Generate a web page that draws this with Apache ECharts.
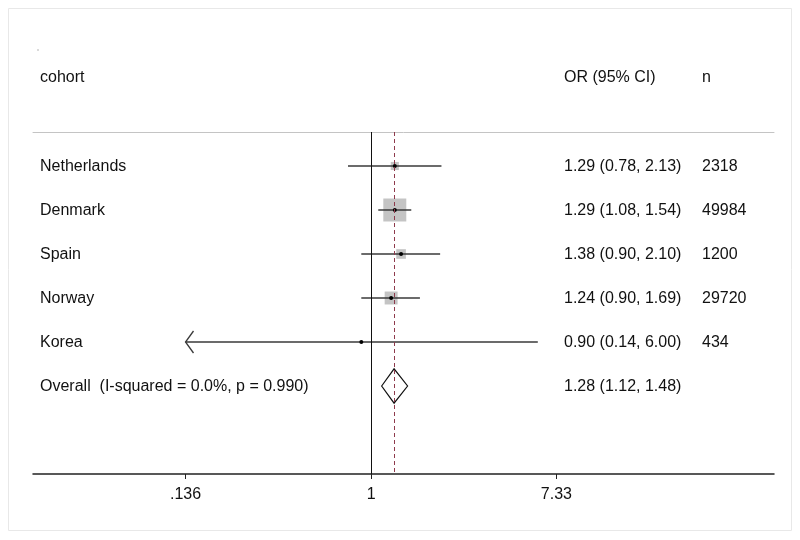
<!DOCTYPE html>
<html>
<head>
<meta charset="utf-8">
<script src="https://cdn.jsdelivr.net/npm/echarts@6/dist/echarts.min.js"></script>
<style>html,body{margin:0;padding:0;background:#fff}#c{width:800px;height:540px}</style>
</head>
<body>
<div id="c"></div>
<script>
// ---- data ----
const cohorts = ['Netherlands', 'Denmark', 'Spain', 'Norway', 'Korea'];
const orValues = [1.29, 1.29, 1.38, 1.24, 0.90];
const ciLower = [0.78, 1.08, 0.90, 0.90, 0.135];
const ciUpper = [2.13, 1.54, 2.10, 1.69, 6.00];
const sampleSize = [2318, 49984, 1200, 29720, 434];
const weights = [7.7, 61.6, 10.8, 19.5, 0.5];   // % weight (box size)
const overallLabel = 'Overall  (I-squared = 0.0%, p = 0.990)';
const overallOR = 1.28, overallLower = 1.12, overallUpper = 1.48;
const tickValues = [0.136, 1, 7.33];
const tickLabels = ['.136', '1', '7.33'];
const axisMinOR = 0.02640, axisMaxOR = 76.0;
const headers = ['cohort', 'OR (95% CI)', 'n'];

// ---- layout / style ----
const FONT = '"Liberation Sans", Arial, Helvetica, sans-serif';
const FS = 16;
const colName = 40, colCI = 564, colN = 702;
const fmt = v => (Math.round(v * 100) / 100).toFixed(2);
const ciText = (o, l, u) => fmt(o) + ' (' + fmt(l) + ', ' + fmt(u) + ')';
const txt = (s, x, y) => ({type: 'text', style: {text: s, x: x, y: y + 1, fill: '#111', fontSize: FS, fontFamily: FONT, verticalAlign: 'middle', align: 'left'}});

const studyData = cohorts.map((c, i) => [Math.log(orValues[i]), i, Math.log(ciLower[i]), Math.log(ciUpper[i]), weights[i]]);
const overallData = [[Math.log(overallOR), cohorts.length, Math.log(overallLower), Math.log(overallUpper)]];

const chart = echarts.init(document.getElementById('c'), null, {renderer: 'canvas'});
chart.setOption({
  animation: false,
  backgroundColor: '#fff',
  graphic: [
    {type: 'rect', shape: {x: 8.5, y: 8.5, width: 783, height: 522}, style: {fill: 'none', stroke: '#e8e8e8', lineWidth: 1}, silent: true},
    {type: 'circle', shape: {cx: 38, cy: 50, r: 0.7}, style: {fill: '#999'}, silent: true},
    {type: 'text', left: colName, top: 70, style: {text: headers[0], fill: '#111', fontSize: FS, fontFamily: FONT}},
    {type: 'text', left: colCI, top: 70, style: {text: headers[1], fill: '#111', fontSize: FS, fontFamily: FONT}},
    {type: 'text', left: colN, top: 70, style: {text: headers[2], fill: '#111', fontSize: FS, fontFamily: FONT}}
  ],
  grid: {left: 33, right: 26, top: 132, bottom: 66},
  xAxis: [{
    type: 'value', min: Math.log(axisMinOR), max: Math.log(axisMaxOR), position: 'bottom',
    splitLine: {show: false},
    axisLine: {show: true, onZero: false, lineStyle: {color: '#222', width: 1.5}},
    axisTick: {show: true, length: 5, lineStyle: {color: '#222', width: 1}, customValues: tickValues.map(Math.log)},
    axisLabel: {show: true, margin: 13, color: '#111', fontSize: FS, fontFamily: FONT,
      customValues: tickValues.map(Math.log),
      formatter: v => { let b = 0; tickValues.forEach((t, k) => { if (Math.abs(Math.log(t) - v) < Math.abs(Math.log(tickValues[b]) - v)) b = k; }); return tickLabels[b]; }}
  }, {
    type: 'value', min: Math.log(axisMinOR), max: Math.log(axisMaxOR), position: 'top',
    splitLine: {show: false}, axisTick: {show: false}, axisLabel: {show: false},
    axisLine: {show: true, onZero: false, lineStyle: {color: '#c4c4c4', width: 1}}
  }],
  yAxis: {type: 'value', inverse: true, min: -34 / 44, max: 7, show: false, splitLine: {show: false}},
  series: [{
    type: 'custom', xAxisIndex: 0, data: studyData, encode: {x: 0, y: 1}, z: 3,
    renderItem: (params, api) => {
      const i = api.value(1);
      const p = api.coord([api.value(0), i]);
      const clip = Math.log(tickValues[0]);
      const lo = api.value(2), hi = api.value(3);
      const xl = api.coord([Math.max(lo, clip), i])[0];
      const xh = api.coord([hi, i])[0];
      const side = 2.93 * Math.sqrt(api.value(4));
      const ch = [
        {type: 'rect', shape: {x: p[0] - side / 2, y: p[1] - side / 2, width: side, height: side}, style: {fill: '#c4c4c4'}},
        {type: 'line', shape: {x1: xl, y1: p[1], x2: xh, y2: p[1]}, style: {stroke: '#3a3a3a', lineWidth: 1.3}}
      ];
      if (lo < clip) {
        ch.push({type: 'polyline', shape: {points: [[xl + 8, p[1] - 11], [xl, p[1]], [xl + 8, p[1] + 11]]}, style: {stroke: '#3a3a3a', lineWidth: 1.3, fill: 'none'}});
      }
      ch.push({type: 'circle', shape: {cx: p[0], cy: p[1], r: 2}, style: {fill: '#000'}});
      ch.push(txt(cohorts[i], colName, p[1]));
      ch.push(txt(ciText(orValues[i], ciLower[i], ciUpper[i]), colCI, p[1]));
      ch.push(txt(String(sampleSize[i]), colN, p[1]));
      return {type: 'group', children: ch};
    },
    markLine: {silent: true, symbol: ['none', 'none'], label: {show: false},
      lineStyle: {color: '#111', width: 1, type: 'solid'}, data: [{xAxis: Math.log(tickValues[1])}]}
  }, {
    type: 'custom', xAxisIndex: 0, data: overallData, encode: {x: 0, y: 1}, z: 3,
    renderItem: (params, api) => {
      const y = api.value(1);
      const c = api.coord([api.value(0), y]);
      const l = api.coord([api.value(2), y]);
      const r = api.coord([api.value(3), y]);
      const t = api.coord([api.value(0), y - 0.39]);
      const b = api.coord([api.value(0), y + 0.39]);
      return {type: 'group', children: [
        {type: 'polygon', shape: {points: [[l[0], c[1]], [t[0], t[1]], [r[0], c[1]], [b[0], b[1]]]}, style: {fill: 'none', stroke: '#111', lineWidth: 1.2}},
        txt(overallLabel, colName, c[1]),
        txt(ciText(overallOR, overallLower, overallUpper), colCI, c[1])
      ]};
    },
    markLine: {silent: true, symbol: ['none', 'none'], label: {show: false},
      lineStyle: {color: '#8e3a4c', width: 1, type: [4, 3]}, data: [{xAxis: Math.log(overallOR)}]}
  }]
});
</script>
</body>
</html>
